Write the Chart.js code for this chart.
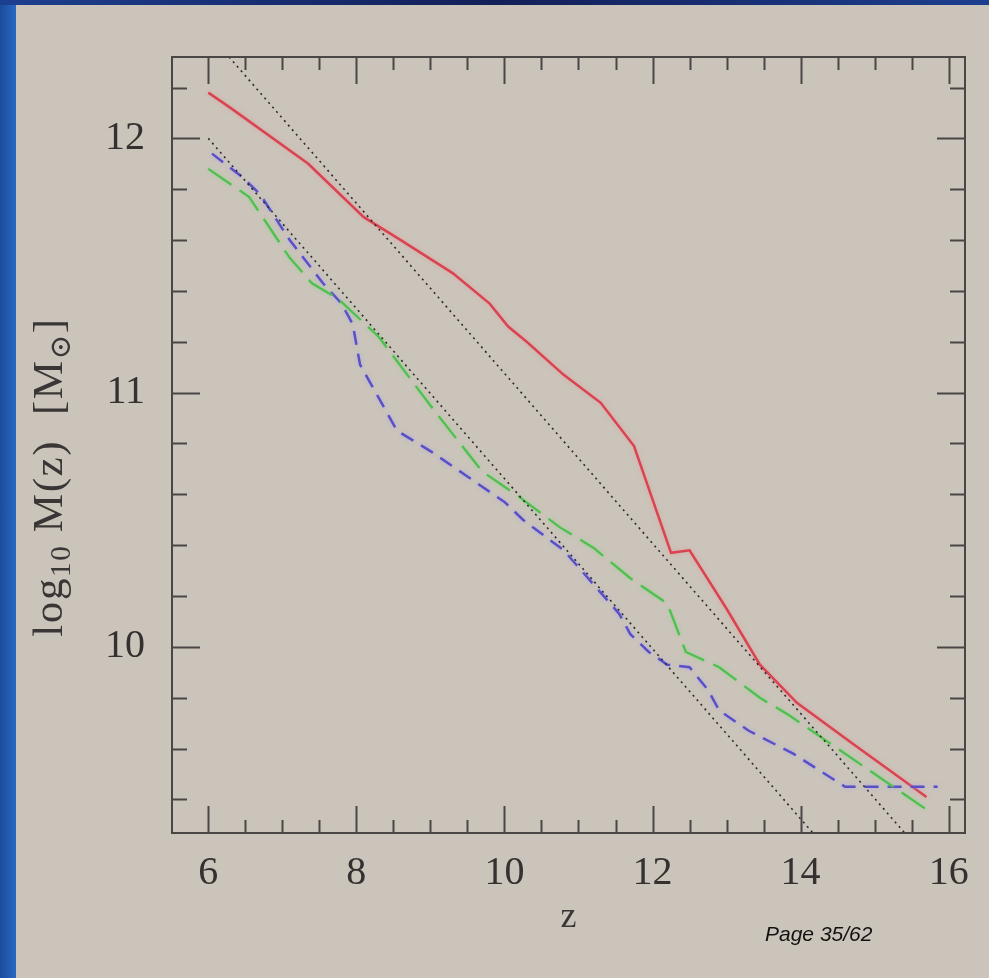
<!DOCTYPE html>
<html>
<head>
<meta charset="utf-8">
<script src="https://cdn.jsdelivr.net/npm/chart.js@4.4.0/dist/chart.umd.min.js"></script>
<style>
  html, body { margin: 0; padding: 0; }
  body { width: 989px; height: 978px; background: #cbc4ba; position: relative; overflow: hidden; }
  .edge-left { position: absolute; left: 0; top: 0; width: 16px; height: 978px; background: linear-gradient(to right, #1a4c9c, #2a68c0); }
  .edge-top { position: absolute; left: 0; top: 0; width: 989px; height: 5px; background: linear-gradient(to right, #1d3f8f, #131f58 50%, #1d3f8f); }
  #wrap { position: absolute; left: 0; top: 0; width: 989px; height: 978px; }
</style>
</head>
<body>
<div class="edge-left"></div>
<div class="edge-top"></div>
<div id="wrap"><canvas id="massChart" width="989" height="978"></canvas></div>

<script>
// Halo mass history, log10 M(z) against redshift
const redZ = [6.0, 6.3, 7.35, 8.1, 8.6, 9.3, 9.8, 10.05, 10.3, 10.8, 11.3, 11.75, 12.25, 12.5, 13.0, 13.45, 13.95, 14.7, 15.7];
const redM = [12.18, 12.12, 11.90, 11.69, 11.60, 11.47, 11.35, 11.26, 11.20, 11.07, 10.96, 10.79, 10.37, 10.38, 10.15, 9.93, 9.78, 9.62, 9.41];

const greenZ = [6.0, 6.55, 7.1, 7.4, 7.75, 8.3, 9.05, 9.7, 10.2, 10.75, 11.2, 11.7, 12.2, 12.45, 12.9, 13.45, 13.85, 14.3, 14.45, 15.7];
const greenM = [11.88, 11.77, 11.53, 11.43, 11.37, 11.22, 10.93, 10.69, 10.59, 10.47, 10.39, 10.27, 10.17, 9.98, 9.92, 9.80, 9.73, 9.64, 9.61, 9.36];

const blueZ = [6.05, 6.45, 6.7, 7.1, 7.55, 7.8, 7.95, 8.05, 8.3, 8.55, 9.0, 9.5, 10.0, 10.25, 10.8, 11.55, 11.7, 11.95, 12.2, 12.5, 12.75, 12.9, 13.3, 13.9, 14.6, 15.85];
const blueM = [11.94, 11.85, 11.78, 11.60, 11.43, 11.35, 11.27, 11.11, 10.98, 10.85, 10.77, 10.67, 10.57, 10.50, 10.38, 10.13, 10.05, 9.98, 9.93, 9.92, 9.83, 9.75, 9.67, 9.58, 9.45, 9.45];

// straight reference lines
const fitUpperZ = [6.28, 15.4];
const fitUpperM = [12.32, 9.27];
const fitLowerZ = [6.0, 14.16];
const fitLowerM = [12.0, 9.27];

// axis ticks
const xMajor = [6, 8, 10, 12, 14, 16];
const xMinor = [6.5, 7, 7.5, 8.5, 9, 9.5, 10.5, 11, 11.5, 12.5, 13, 13.5, 14.5, 15, 15.5];
const yMajor = [10, 11, 12];
const yMinor = [9.4, 9.6, 9.8, 10.2, 10.4, 10.6, 10.8, 11.2, 11.4, 11.6, 11.8, 12.2];

const pts = (zs, ms) => zs.map((z, i) => ({ x: z, y: ms[i] }));

function drawRich(ctx, parts, cx, cy, size, spacing) {
  // parts: [text, isSub]; drawn rotated, reading bottom to top
  const font = s => s + 'px "Liberation Serif", "DejaVu Serif", serif';
  ctx.save();
  ctx.letterSpacing = spacing + 'px';
  let total = 0;
  parts.forEach(p => {
    ctx.font = font(p[1] ? size * 0.68 : size);
    total += ctx.measureText(p[0]).width;
  });
  ctx.translate(cx, cy);
  ctx.rotate(-Math.PI / 2);
  ctx.textBaseline = 'alphabetic';
  ctx.textAlign = 'left';
  let x = -total / 2;
  parts.forEach(p => {
    ctx.font = font(p[1] ? size * 0.68 : size);
    ctx.fillText(p[0], x, p[1] ? size * 0.5 : size * 0.33);
    x += ctx.measureText(p[0]).width;
  });
  ctx.restore();
}

// soft glow in each line's own colour
const glow = {
  id: 'glow',
  beforeDatasetDraw(chart, args) {
    const ds = chart.data.datasets[args.index];
    chart.ctx.save();
    chart.ctx.shadowColor = ds.glowColor || 'rgba(0,0,0,0)';
    chart.ctx.shadowBlur = 4;
  },
  afterDatasetDraw(chart) {
    chart.ctx.restore();
  }
};

const frame = {
  id: 'frame',
  afterDraw(chart) {
    const { ctx, chartArea: a, scales: { x, y } } = chart;
    ctx.save();
    ctx.strokeStyle = '#4b4646';
    ctx.lineWidth = 2;
    ctx.strokeRect(a.left, a.top, a.right - a.left, a.bottom - a.top);

    ctx.beginPath();
    const vTick = (v, len) => {
      const px = Math.round(x.getPixelForValue(v)) + 0.5;
      ctx.moveTo(px, a.bottom); ctx.lineTo(px, a.bottom - len);
      ctx.moveTo(px, a.top); ctx.lineTo(px, a.top + len);
    };
    const hTick = (v, len) => {
      const py = Math.round(y.getPixelForValue(v)) + 0.5;
      ctx.moveTo(a.left, py); ctx.lineTo(a.left + len, py);
      ctx.moveTo(a.right, py); ctx.lineTo(a.right - len, py);
    };
    xMajor.forEach(v => vTick(v, 27));
    xMinor.forEach(v => vTick(v, 13));
    yMajor.forEach(v => hTick(v, 28));
    yMinor.forEach(v => hTick(v, 15));
    ctx.stroke();

    // axis titles
    ctx.fillStyle = '#3a3636';
    ctx.font = '36px "Liberation Serif", "DejaVu Serif", serif';
    ctx.textAlign = 'center';
    ctx.textBaseline = 'middle';
    ctx.fillText('z', (a.left + a.right) / 2, 918);

    drawRich(ctx, [['log', false], ['10', true], [' M(z)  [M', false], ['\u2299', true], [']', false]], 48, 477, 43, 1.6);

    ctx.fillStyle = '#111';
    ctx.font = 'italic 21px "Liberation Sans", Arial, sans-serif';
    ctx.textAlign = 'left';
    ctx.textBaseline = 'alphabetic';
    ctx.fillText('Page 35/62', 765, 941);
    ctx.restore();
  }
};

const line = (data, color, glowColor, width, dash) => ({
  data: data,
  borderColor: color,
  glowColor: glowColor,
  borderWidth: width,
  borderDash: dash,
  showLine: true,
  pointRadius: 0,
  tension: 0
});

new Chart(document.getElementById('massChart'), {
  type: 'scatter',
  data: {
    datasets: [
      line(pts(fitUpperZ, fitUpperM), '#2e2b2b', null, 1.6, [2, 4]),
      line(pts(fitLowerZ, fitLowerM), '#2e2b2b', null, 1.6, [2, 4]),
      line(pts(greenZ, greenM), '#4fbf4f', 'rgba(120,220,120,0.6)', 2.3, [28, 10]),
      line(pts(blueZ, blueM), '#5a50c6', 'rgba(170,160,240,0.8)', 2.5, [14, 9]),
      line(pts(redZ, redM), '#d8444f', 'rgba(240,140,150,0.6)', 2.5, [])
    ]
  },
  options: {
    responsive: false,
    animation: false,
    layout: { padding: { left: 0, top: 57, right: 24, bottom: 0 } },
    plugins: { legend: { display: false }, tooltip: { enabled: false } },
    scales: {
      x: {
        type: 'linear',
        min: 5.51,
        max: 16.22,
        grid: { display: false, drawTicks: false },
        border: { display: false },
        afterBuildTicks: s => { s.ticks = xMajor.map(v => ({ value: v })); },
        afterFit: s => { s.height = 145; },
        ticks: {
          font: { family: '"Liberation Serif", "DejaVu Serif", serif', size: 40 },
          color: '#353131',
          padding: 16,
          maxRotation: 0,
          autoSkip: false
        }
      },
      y: {
        type: 'linear',
        min: 9.268,
        max: 12.32,
        grid: { display: false, drawTicks: false },
        border: { display: false },
        afterBuildTicks: s => { s.ticks = yMajor.map(v => ({ value: v })); },
        afterFit: s => { s.width = 172; },
        ticks: {
          font: { family: '"Liberation Serif", "DejaVu Serif", serif', size: 40 },
          color: '#353131',
          padding: 27,
          autoSkip: false
        }
      }
    }
  },
  plugins: [glow, frame]
});
</script>
</body>
</html>
